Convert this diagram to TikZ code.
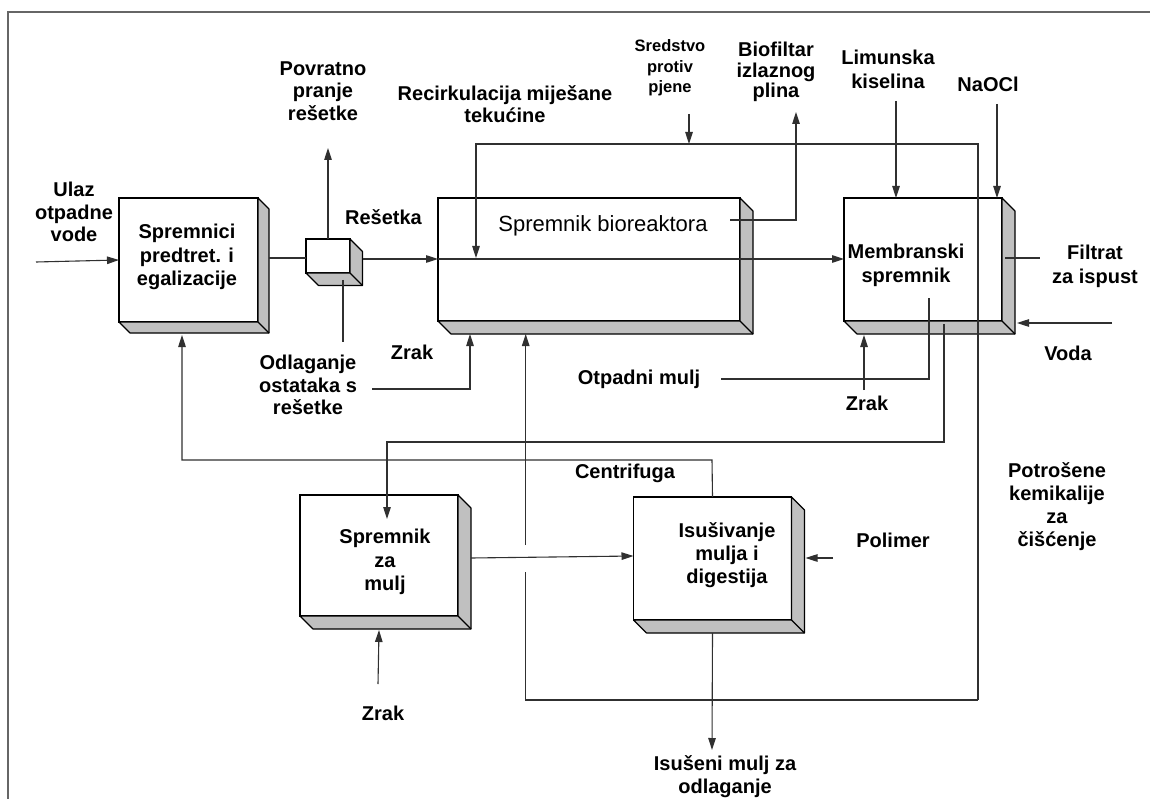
\documentclass[tikz,border=0pt]{standalone}
\usepackage{fontspec}
\setmainfont{Liberation Sans}
\usetikzlibrary{arrows.meta,calc}
\definecolor{boxgray}{HTML}{C0C0C0}
\definecolor{linegray}{HTML}{303030}
\definecolor{framegray}{HTML}{666666}
\newcommand\mybd[2]{%
  \filldraw[fill=boxgray, draw=black, line width=1.1pt, line join=round]
    (#1.north east) -- ++(#2,#2) -- ($(#1.south east)+(#2,#2)$) -- ($(#1.south west)+(#2,#2)$) -- (#1.south west) -- (#1.south east) -- cycle;
  \draw[black, line width=1.1pt] (#1.south east) -- ++(#2,#2);
}
\begin{document}
\begin{tikzpicture}[x=1pt,y=-1pt,
  lbl/.style={font=\fontsize{20}{22.5}\selectfont\bfseries, align=center, inner sep=0pt},
  lblsm/.style={font=\fontsize{16.5}{20.5}\selectfont\bfseries, align=center, inner sep=0pt},
  lblreg/.style={font=\fontsize{22}{24}\selectfont, align=center, inner sep=0pt},
  face/.style={draw=black, fill=white, line width=1.1pt, inner sep=0pt, outer sep=0pt},
  ln/.style={draw=linegray, line width=1.1pt},
  arr/.style={ln, -{Triangle[length=12pt,width=7.5pt]}}]
\useasboundingbox (0,0) rectangle (1150,799);
% frame
\draw[framegray, line width=2pt] (8,799) -- (8,12) -- (1150,12);

% boxes
\node[face, minimum width=139pt, minimum height=124pt] (pre) at (188.5,260) {};
\mybd{pre}{11}
\node[face, minimum width=44pt, minimum height=34pt] (scr) at (328,256) {};
\mybd{scr}{12.5}
\node[face, minimum width=302pt, minimum height=123pt] (bio) at (589,259.5) {};
\mybd{bio}{13}
\node[face, minimum width=158pt, minimum height=123pt] (mem) at (923,259.5) {};
\mybd{mem}{13}
\node[face, minimum width=158pt, minimum height=121pt] (slu) at (379,555.5) {};
\mybd{slu}{13}
\node[face, minimum width=158pt, minimum height=123pt] (dew) at (712.5,558.5) {};
\mybd{dew}{13}

% labels
\node[lbl] (tUlaz) at (74,212) {Ulaz\\otpadne\\vode};
\node[lbl] (tPov) at (323,91) {Povratno\\pranje\\rešetke};
\node[lbl] (tRec) at (505,104) {Recirkulacija miješane\\tekućine};
\node[lblsm] (tSred) at (670,68) {Sredstvo\\protiv\\pjene};
\node[lbl, font=\fontsize{20}{20.5}\selectfont\bfseries] (tBiof) at (776,72) {Biofiltar\\izlaznog\\plina};
\node[lbl, font=\fontsize{20}{24}\selectfont\bfseries] (tLim) at (888,69) {Limunska\\kiselina};
\node[lbl] (tNa) at (988,84) {NaOCl};
\node[lbl] (tRes) at (383.5,217) {Rešetka};
\node[lbl, font=\fontsize{20}{23.5}\selectfont\bfseries] (tPre) at (187,257) {Spremnici\\predtret. i\\egalizacije};
\node[lbl] (tOdl) at (308,385) {Odlaganje\\ostataka s\\rešetke};
\node[lbl] (tZr1) at (412,352) {Zrak};
\node[lblreg] (tBio) at (603,226) {Spremnik bioreaktora};
\node[lbl] (tOtp) at (639,379) {Otpadni mulj};
\node[lbl] (tZr2) at (867,403) {Zrak};
\node[lbl, font=\fontsize{20}{24}\selectfont\bfseries] (tMem) at (906,265) {Membranski\\spremnik};
\node[lbl, font=\fontsize{20}{24}\selectfont\bfseries] (tFil) at (1095,266) {Filtrat\\za ispust};
\node[lbl] (tVoda) at (1068,353) {Voda};
\node[lbl] (tCen) at (625,473) {Centrifuga};
\node[lbl, font=\fontsize{20}{23}\selectfont\bfseries] (tPot) at (1057,507) {Potrošene\\kemikalije\\za\\čišćenje};
\node[lbl, font=\fontsize{20}{23.5}\selectfont\bfseries] (tSlu) at (385,562) {Spremnik\\za\\mulj};
\node[lbl, font=\fontsize{20}{23}\selectfont\bfseries] (tDew) at (727,555) {Isušivanje\\mulja i\\digestija};
\node[lbl] (tPol) at (893,540) {Polimer};
\node[lbl] (tZr3) at (383,713) {Zrak};
\node[lbl, font=\fontsize{20}{23}\selectfont\bfseries] (tIsu) at (725,777) {Isušeni mulj za\\odlaganje};

% free-end coordinates
\coordinate (inS) at (36,262);
\coordinate (povE) at (328,148);
\coordinate (odlE) at (343,342);
\coordinate (zr1S) at (372,389);
\coordinate (zr1B) at (470,389);
\coordinate (recA) at (978,700);
\coordinate (recB) at (978,144);
\coordinate (recC) at (476,144);
\coordinate (recD) at (476,258);
\coordinate (loopA) at (525.7,700);
\coordinate (loopB) at (525.7,572);
\coordinate (loopC) at (525.7,545);
\coordinate (sredS) at (689,114);
\coordinate (bfA) at (730,220);
\coordinate (bfB) at (796,220);
\coordinate (bfE) at (796,112);
\coordinate (limS) at (896,101);
\coordinate (naS) at (997,104);
\coordinate (filE) at (1040,258);
\coordinate (vodS) at (1112,323);
\coordinate (zr2S) at (864,390);
\coordinate (otpS) at (721,379);
\coordinate (otpB) at (929,379);
\coordinate (otpE) at (929,298);
\coordinate (sluA) at (944,324);
\coordinate (sluB) at (944,442);
\coordinate (sluC) at (387,442);
\coordinate (cenA) at (712,460);
\coordinate (cenB) at (182,460);
\coordinate (zr3S) at (378,684);
\coordinate (polS) at (833,558);
\coordinate (isuE) at (712,750);

% connectors
\draw[arr] (inS) -- (pre.west);
\draw[ln] ($(pre.east)+(11,-2)$) -- (scr.west |- 0,258);
\draw[arr] ($(scr.east)+(12.5,3)$) -- (bio.west |- 0,259);
\draw[arr] (bio.west |- 0,259) -- (mem.west |- 0,259);
\draw[arr] (scr.north) -- (povE);
\draw[ln] ($(scr.south)+(15,7)$) -- (odlE);
\draw[arr] (zr1S) -- (zr1B) -- ($(bio.south west)+(32,13)$);
\draw[arr] (recA) -- (recB) -- (recC) -- (recD);
\draw[ln] (recA) -- (loopA) -- (loopB);
\draw[arr] (loopC) -- ($(bio.south west)+(87.7,13)$);
\draw[arr] (sredS) -- (sredS |- recC);
\draw[arr] (bfA) -- (bfB) -- (bfE);
\draw[arr] (limS) -- (limS |- mem.north);
\draw[arr] (naS) -- (naS |- mem.north);
\draw[ln] ($(mem.east)+(3,-1.5)$) -- (filE);
\draw[arr] (vodS) -- ($(mem.south east)+(15,2)$);
\draw[arr] (zr2S) -- ($(mem.south west)+(20,14)$);
\draw[ln] (otpS) -- (otpB) -- (otpE);
\draw[arr] (sluA) -- (sluB) -- (sluC) -- ($(slu.north)+(8,24)$);
\draw[arr] (dew.north) -- (cenA) -- (cenB) -- ($(pre.south west)+(63,13)$);
\draw[arr] ($(slu.east)+(13,2.5)$) -- ($(dew.west)+(0,-2.5)$);
\draw[arr] (zr3S) -- ($(slu.south)+(0,14)$);
\draw[arr] (polS) -- ($(dew.east)+(14,-0.5)$);
\draw[arr] ($(dew.south)+(0,13)$) -- (isuE);
\end{tikzpicture}
\end{document}
